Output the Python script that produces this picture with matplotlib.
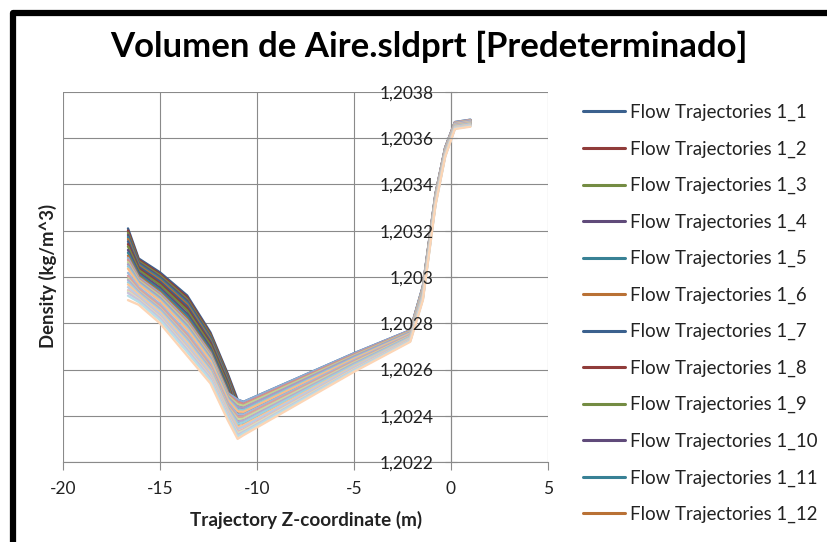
import matplotlib
matplotlib.use("Agg")
import matplotlib.pyplot as plt
from matplotlib.patches import Rectangle
from matplotlib.colors import to_rgb

plt.rcParams['font.family'] = ['Lato', 'DejaVu Sans']
plt.rcParams['axes.unicode_minus'] = False

# ---------------- data ----------------
title = "Volumen de Aire.sldprt [Predeterminado]"
x_label = "Trajectory Z-coordinate (m)"
y_label = "Density (kg/m^3)"

x_ticks = [-20, -15, -10, -5, 0, 5]
x_tick_labels = ["-20", "-15", "-10", "-5", "0", "5"]
y_ticks = [1.2022, 1.2024, 1.2026, 1.2028, 1.2030, 1.2032, 1.2034, 1.2036, 1.2038]
y_tick_labels = ["1,2022", "1,2024", "1,2026", "1,2028", "1,203",
                 "1,2032", "1,2034", "1,2036", "1,2038"]

# sample positions along the trajectories (Z coordinate, m)
z_knots = [-16.65, -16.1, -15.0, -13.6, -12.4, -11.5, -11.0, -10.7,
           -5.0, -2.1, -1.45, -0.8, -0.3, 0.2, 1.0]

traj_1 = [1.203210, 1.203080, 1.203020, 1.202920, 1.202760, 1.202580, 1.202470, 1.202460, 1.202670, 1.202770, 1.202960, 1.203360, 1.203560, 1.203670, 1.203680]
traj_2 = [1.203201, 1.203074, 1.203013, 1.202912, 1.202753, 1.202574, 1.202460, 1.202451, 1.202665, 1.202767, 1.202956, 1.203357, 1.203558, 1.203668, 1.203678]
traj_3 = [1.203191, 1.203068, 1.203007, 1.202904, 1.202747, 1.202568, 1.202450, 1.202443, 1.202660, 1.202764, 1.202953, 1.203354, 1.203555, 1.203666, 1.203676]
traj_4 = [1.203182, 1.203062, 1.203000, 1.202897, 1.202740, 1.202562, 1.202439, 1.202434, 1.202656, 1.202761, 1.202949, 1.203351, 1.203553, 1.203665, 1.203675]
traj_5 = [1.203173, 1.203056, 1.202994, 1.202889, 1.202734, 1.202556, 1.202427, 1.202424, 1.202650, 1.202757, 1.202945, 1.203347, 1.203550, 1.203662, 1.203672]
traj_6 = [1.203164, 1.203050, 1.202987, 1.202881, 1.202727, 1.202550, 1.202419, 1.202417, 1.202646, 1.202755, 1.202942, 1.203345, 1.203548, 1.203661, 1.203671]
traj_7 = [1.203154, 1.203044, 1.202980, 1.202873, 1.202720, 1.202544, 1.202405, 1.202405, 1.202640, 1.202751, 1.202937, 1.203341, 1.203545, 1.203659, 1.203669]
traj_8 = [1.203142, 1.203036, 1.202972, 1.202863, 1.202712, 1.202536, 1.202395, 1.202397, 1.202635, 1.202748, 1.202934, 1.203338, 1.203542, 1.203657, 1.203667]
traj_9 = [1.203132, 1.203030, 1.202965, 1.202855, 1.202705, 1.202530, 1.202385, 1.202388, 1.202630, 1.202745, 1.202930, 1.203335, 1.203540, 1.203655, 1.203665]
traj_10 = [1.203117, 1.203020, 1.202954, 1.202842, 1.202694, 1.202520, 1.202375, 1.202379, 1.202625, 1.202742, 1.202926, 1.203332, 1.203538, 1.203653, 1.203663]
traj_11 = [1.203105, 1.203012, 1.202945, 1.202832, 1.202685, 1.202512, 1.202365, 1.202371, 1.202620, 1.202739, 1.202923, 1.203329, 1.203535, 1.203651, 1.203661]
traj_12 = [1.203092, 1.203004, 1.202936, 1.202821, 1.202676, 1.202504, 1.202351, 1.202359, 1.202614, 1.202735, 1.202918, 1.203325, 1.203532, 1.203649, 1.203659]
traj_13 = [1.203083, 1.202998, 1.202930, 1.202813, 1.202670, 1.202498, 1.202470, 1.202460, 1.202670, 1.202770, 1.202960, 1.203360, 1.203560, 1.203670, 1.203680]
traj_14 = [1.203074, 1.202992, 1.202923, 1.202806, 1.202663, 1.202492, 1.202460, 1.202451, 1.202665, 1.202767, 1.202956, 1.203357, 1.203558, 1.203668, 1.203678]
traj_15 = [1.203064, 1.202986, 1.202917, 1.202798, 1.202657, 1.202486, 1.202450, 1.202443, 1.202660, 1.202764, 1.202953, 1.203354, 1.203555, 1.203666, 1.203676]
traj_16 = [1.203055, 1.202980, 1.202910, 1.202790, 1.202650, 1.202480, 1.202439, 1.202434, 1.202656, 1.202761, 1.202949, 1.203351, 1.203553, 1.203665, 1.203675]
traj_17 = [1.203046, 1.202974, 1.202903, 1.202782, 1.202643, 1.202474, 1.202427, 1.202424, 1.202650, 1.202757, 1.202945, 1.203347, 1.203550, 1.203662, 1.203672]
traj_18 = [1.203036, 1.202968, 1.202897, 1.202774, 1.202637, 1.202468, 1.202419, 1.202417, 1.202646, 1.202755, 1.202942, 1.203345, 1.203548, 1.203661, 1.203671]
traj_19 = [1.203018, 1.202956, 1.202884, 1.202759, 1.202624, 1.202456, 1.202405, 1.202405, 1.202640, 1.202751, 1.202937, 1.203341, 1.203545, 1.203659, 1.203669]
traj_20 = [1.203005, 1.202948, 1.202875, 1.202748, 1.202615, 1.202448, 1.202395, 1.202397, 1.202635, 1.202748, 1.202934, 1.203338, 1.203542, 1.203657, 1.203667]
traj_21 = [1.202993, 1.202940, 1.202866, 1.202738, 1.202606, 1.202440, 1.202385, 1.202388, 1.202630, 1.202745, 1.202930, 1.203335, 1.203540, 1.203655, 1.203665]
traj_22 = [1.202987, 1.202936, 1.202862, 1.202733, 1.202602, 1.202436, 1.202375, 1.202379, 1.202625, 1.202742, 1.202926, 1.203332, 1.203538, 1.203653, 1.203663]
traj_23 = [1.202977, 1.202930, 1.202855, 1.202725, 1.202595, 1.202430, 1.202365, 1.202371, 1.202620, 1.202739, 1.202923, 1.203329, 1.203535, 1.203651, 1.203661]
traj_24 = [1.202968, 1.202924, 1.202848, 1.202717, 1.202588, 1.202424, 1.202351, 1.202359, 1.202614, 1.202735, 1.202918, 1.203325, 1.203532, 1.203649, 1.203659]
traj_25 = [1.202956, 1.202916, 1.202840, 1.202707, 1.202580, 1.202416, 1.202342, 1.202352, 1.202610, 1.202732, 1.202915, 1.203322, 1.203530, 1.203647, 1.203657]
traj_26 = [1.202943, 1.202908, 1.202831, 1.202696, 1.202571, 1.202408, 1.202331, 1.202342, 1.202604, 1.202729, 1.202911, 1.203319, 1.203527, 1.203645, 1.203655]
traj_27 = [1.202937, 1.202904, 1.202826, 1.202691, 1.202566, 1.202404, 1.202324, 1.202336, 1.202601, 1.202727, 1.202908, 1.203317, 1.203526, 1.203644, 1.203654]
traj_28 = [1.202931, 1.202900, 1.202822, 1.202686, 1.202562, 1.202400, 1.202317, 1.202330, 1.202598, 1.202725, 1.202906, 1.203315, 1.203524, 1.203643, 1.203653]
traj_29 = [1.202919, 1.202892, 1.202813, 1.202676, 1.202553, 1.202392, 1.202310, 1.202325, 1.202595, 1.202723, 1.202904, 1.203313, 1.203522, 1.203642, 1.203652]
traj_30 = [1.202900, 1.202880, 1.202800, 1.202660, 1.202540, 1.202380, 1.202300, 1.202316, 1.202590, 1.202720, 1.202900, 1.203310, 1.203520, 1.203640, 1.203650]

trajectories = [traj_1, traj_2, traj_3, traj_4, traj_5, traj_6, traj_7, traj_8,
                traj_9, traj_10, traj_11, traj_12, traj_13, traj_14, traj_15,
                traj_16, traj_17, traj_18, traj_19, traj_20, traj_21, traj_22,
                traj_23, traj_24, traj_25, traj_26, traj_27, traj_28, traj_29,
                traj_30]
series_names = ["Flow Trajectories 1_%d" % (i + 1) for i in range(len(trajectories))]

# ---------------- style ----------------
accents = ['#4F81BD', '#C0504D', '#9BBB59', '#8064A2', '#4BACC6', '#F79646']
cycle_shade = [-0.25, -0.25, 0.35, 0.45, 0.6]


def shade(c, f):
    r, g, b = to_rgb(c)
    if f < 0:
        return (r * (1 + f), g * (1 + f), b * (1 + f))
    return (r + (1 - r) * f, g + (1 - g) * f, b + (1 - b) * f)


W, H = 828, 542
fig = plt.figure(figsize=(W / 100, H / 100), dpi=100)
ax = fig.add_axes([63 / W, 80 / H, 485 / W, 370 / H])
ax.set_xlim(-20, 5)
ax.set_ylim(1.2022, 1.2038)

grid_c = '#8a8a8a'
for xv in x_ticks:
    ax.axvline(xv, color=grid_c, lw=0.8, zorder=0.5)
for yv in y_ticks:
    ax.axhline(yv, color=grid_c, lw=0.8, zorder=0.5)

handles = []
for i, dens in enumerate(trajectories):
    col = shade(accents[i % 6], cycle_shade[(i // 6) % len(cycle_shade)])
    h, = ax.plot(z_knots, dens, color=col, lw=1.7, solid_joinstyle='round',
                 solid_capstyle='round', zorder=2, label=series_names[i])
    handles.append(h)

for s in ['top', 'right']:
    ax.spines[s].set_visible(False)
ax.spines['left'].set_position(('data', 0))
ax.spines['left'].set_color(grid_c)
ax.spines['bottom'].set_color(grid_c)
ax.spines['left'].set_zorder(0.6)
ax.spines['bottom'].set_zorder(0.6)

ax.set_xticks(x_ticks)
ax.set_xticklabels(x_tick_labels)
ax.set_yticks(y_ticks)
ax.set_yticklabels(y_tick_labels)
ax.tick_params(axis='x', direction='out', length=6, color=grid_c,
               labelsize=12.5, pad=8, labelcolor='#222222')
ax.tick_params(axis='y', direction='inout', length=8, color=grid_c,
               labelsize=12.5, pad=8.4, labelcolor='#222222')
ax.yaxis.set_zorder(3)
ax.xaxis.set_zorder(3)

fig.text(429 / W, (H - 47) / H, title, ha='center', va='center',
         fontsize=25, fontweight='bold', color='black')
fig.text(306 / W, (H - 520) / H, x_label, ha='center', va='center',
         fontsize=13.6, fontweight='bold', color='#222222')
fig.text(48 / W, (H - 276) / H, y_label, ha='center', va='center',
         rotation=90, fontsize=13.3, fontweight='bold', color='#222222')

leg = ax.legend(handles[:12], series_names[:12], loc='upper left',
                bbox_to_anchor=(583 / W, (H - 104) / H),
                bbox_transform=fig.transFigure, frameon=False,
                fontsize=13.4, handlelength=2.26, handletextpad=0.27,
                labelspacing=1.035, borderpad=0, borderaxespad=0)
for t in leg.get_texts():
    t.set_color('#222222')
for lh in leg.get_lines():
    lh.set_linewidth(2.2)

frame = Rectangle((13 / W, -0.2), 1.3, (H - 13) / H + 0.2,
                  transform=fig.transFigure, fill=False, edgecolor='black',
                  linewidth=4.5, joinstyle='round', clip_on=False)
fig.patches.append(frame)

fig.savefig("out.png", dpi=100)
